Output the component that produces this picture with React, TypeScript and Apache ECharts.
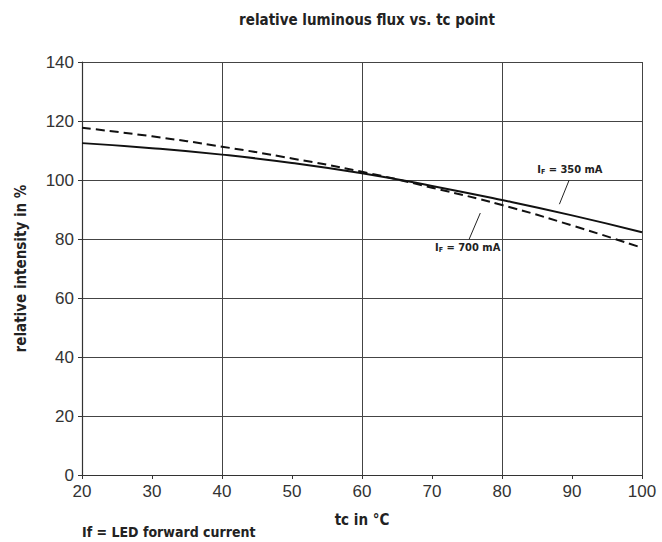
import React, { useEffect, useRef } from "react";
import * as echarts from "echarts";

const tcValues = [20, 30, 40, 50, 60, 70, 80, 90, 100];
const flux350 = [112.5, 110.8, 108.6, 105.8, 102.3, 98.0, 93.2, 88.0, 82.3];
const flux700 = [117.7, 114.8, 111.3, 107.3, 102.8, 97.4, 91.5, 84.6, 77.0];
const xTicks = [20, 100, 10];
const yTicks = [0, 140, 20];

const NARROW = "'Liberation Sans Narrow', 'DejaVu Sans Condensed', 'Roboto', sans-serif";
const TICKFONT = "'Liberation Sans', Arial, sans-serif";

export default function App() {
  const ref = useRef<HTMLDivElement>(null);
  useEffect(() => {
    if (!ref.current) return;
    const chart = echarts.init(ref.current, undefined, { renderer: "svg" });
    const pairs350 = tcValues.map((x, i) => [x, flux350[i]]);
    const pairs700 = tcValues.map((x, i) => [x, flux700[i]]);
    const labelRich = {
      n: { fontFamily: NARROW, fontWeight: "bold", fontSize: 11, color: "#222" },
      s: { fontFamily: NARROW, fontWeight: "bold", fontSize: 7, color: "#222", verticalAlign: "bottom", padding: [4, 0, 0, 0] },
    };
    chart.setOption({
      animation: false,
      backgroundColor: "#fff",
      title: {
        text: "relative luminous flux vs. tc point",
        left: 362,
        top: 7,
        textAlign: "center",
        textStyle: { fontFamily: NARROW, fontWeight: "bold", fontSize: 15, color: "#222" },
      },
      grid: { left: 82, right: 20, top: 62, bottom: 67, containLabel: false },
      xAxis: [
        {
          type: "value",
          min: xTicks[0],
          max: xTicks[1],
          interval: xTicks[2],
          name: "tc in °C",
          nameLocation: "middle",
          nameGap: 37,
          nameTextStyle: { fontFamily: NARROW, fontWeight: "bold", fontSize: 15, color: "#222" },
          axisLine: { show: true, lineStyle: { color: "#333", width: 1.2 } },
          axisTick: { show: true, length: 4, lineStyle: { color: "#333" } },
          axisLabel: { fontFamily: TICKFONT, fontSize: 17, color: "#333", margin: 8 },
          splitLine: { show: false },
        },
        {
          type: "value",
          min: xTicks[0],
          max: xTicks[1],
          interval: 20,
          position: "bottom",
          axisLine: { show: false },
          axisTick: { show: false },
          axisLabel: { show: false },
          splitLine: { show: true, lineStyle: { color: "#444", width: 1 } },
        },
      ],
      yAxis: {
        type: "value",
        min: yTicks[0],
        max: yTicks[1],
        interval: yTicks[2],
        name: "relative intensity in %",
        nameLocation: "middle",
        nameGap: 54,
        nameTextStyle: { fontFamily: NARROW, fontWeight: "bold", fontSize: 15, color: "#222" },
        axisLine: { show: true, lineStyle: { color: "#333", width: 1.2 } },
        axisTick: { show: true, length: 4, lineStyle: { color: "#333" } },
        axisLabel: { fontFamily: TICKFONT, fontSize: 17, color: "#333", margin: 8 },
        splitLine: { show: true, lineStyle: { color: "#444", width: 1 } },
      },
      series: [
        {
          name: "IF = 350 mA",
          type: "line",
          xAxisIndex: 0,
          data: pairs350,
          smooth: true,
          symbol: "none",
          lineStyle: { color: "#111", width: 2 },
          markLine: {
            silent: true,
            symbol: "none",
            label: { show: false },
            lineStyle: { color: "#222", width: 1, type: "solid" },
            data: [[{ coord: [89.6, 100.0] }, { coord: [88.2, 91.8] }]],
          },
          markPoint: {
            silent: true,
            symbol: "circle",
            symbolSize: 0,
            label: {
              show: true,
              position: "inside",
              formatter: "{n|I}{s|F}{n| = 350 mA}",
              rich: labelRich,
            },
            data: [{ coord: [89.7, 103.4] }],
          },
        },
        {
          name: "IF = 700 mA",
          type: "line",
          xAxisIndex: 0,
          data: pairs700,
          smooth: true,
          symbol: "none",
          lineStyle: { color: "#111", width: 2, type: [9, 5] },
          markLine: {
            silent: true,
            symbol: "none",
            label: { show: false },
            lineStyle: { color: "#222", width: 1, type: "solid" },
            data: [[{ coord: [76.9, 88.8] }, { coord: [75.3, 79.9] }]],
          },
          markPoint: {
            silent: true,
            symbol: "circle",
            symbolSize: 0,
            label: {
              show: true,
              position: "inside",
              formatter: "{n|I}{s|F}{n| = 700 mA}",
              rich: labelRich,
            },
            data: [{ coord: [75.1, 77.0] }],
          },
        },
      ],
      graphic: [
        {
          type: "text",
          left: 82,
          top: 525,
          style: {
            text: "If = LED forward current",
            fontFamily: NARROW,
            fontWeight: "bold",
            fontSize: 14,
            fill: "#222",
          },
        },
      ],
    });
    return () => chart.dispose();
  }, []);
  return (
    <div
      ref={ref}
      style={{ position: "fixed", left: 0, top: 0, width: 662, height: 542 }}
    />
  );
}
